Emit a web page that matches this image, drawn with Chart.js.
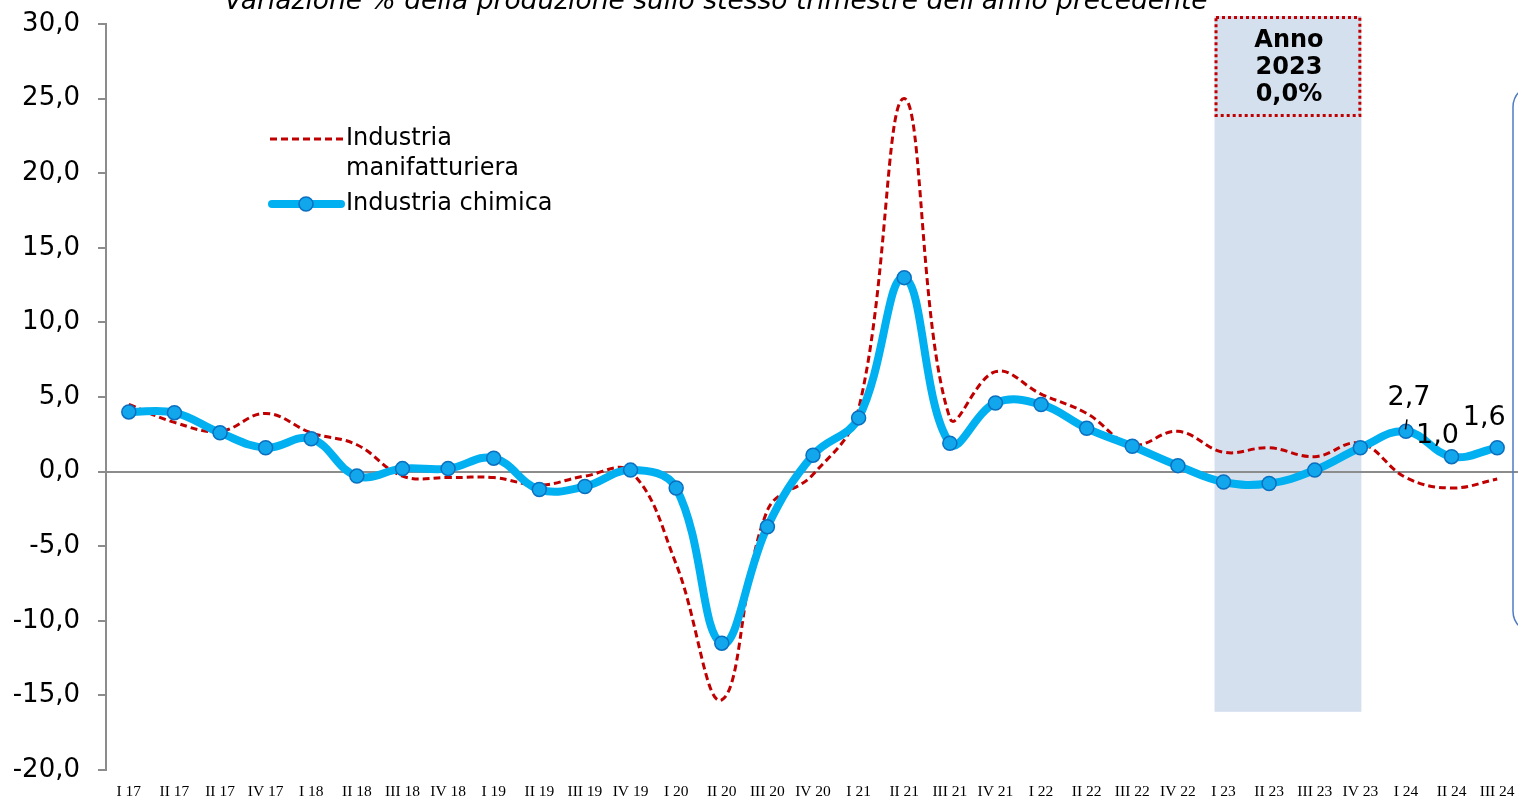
<!DOCTYPE html>
<html>
<head>
<meta charset="utf-8">
<script src="https://cdn.jsdelivr.net/npm/chart.js@4.4.1/dist/chart.umd.min.js"></script>
<style>
  html, body { margin: 0; padding: 0; background: #ffffff; overflow: hidden; }
  #wrap { position: relative; width: 1520px; height: 798px; }
</style>
</head>
<body>
<div id="wrap"><canvas id="c" width="1520" height="798"></canvas></div>
<script>
// ---- Data ----
const categories = ["I 17","II 17","II 17","IV 17","I 18","II 18","III 18","IV 18","I 19","II 19","III 19","IV 19","I 20","II 20","III 20","IV 20","I 21","II 21","III 21","IV 21","I 22","II 22","III 22","IV 22","I 23","II 23","III 23","IV 23","I 24","II 24","III 24"];
const manifatturiera = [4.5,3.3,2.7,3.9,2.6,1.8,-0.3,-0.4,-0.4,-0.9,-0.3,0.0,-6.2,-15.3,-2.6,-0.2,4.2,25.0,3.6,6.7,5.2,3.9,1.8,2.7,1.3,1.6,1.0,1.9,-0.4,-1.1,-0.5];
const chimica = [4.0,3.95,2.6,1.6,2.2,-0.3,0.2,0.2,0.9,-1.2,-1.0,0.1,-1.1,-11.5,-3.7,1.1,3.6,13.0,1.9,4.6,4.5,2.9,1.7,0.4,-0.7,-0.8,0.1,1.6,2.7,1.0,1.6];
const yTicks = [-20,-15,-10,-5,0,5,10,15,20,25,30];
const seriesNames = ["Industria manifatturiera", "Industria chimica"];
const titleText = "Variazione % della produzione sullo stesso trimestre dell'anno precedente";
const annoLines = ["Anno", "2023", "0,0%"];
const highlightStart = 24; // I 23
const highlightEnd = 27;   // IV 23
const labelledPoints = [28, 29, 30]; // I 24, II 24, III 24

const fmt = v => v.toFixed(1).replace('.', ',');
const SANS = "'DejaVu Sans', Verdana, sans-serif";

const overlay = {
  id: 'overlay',
  beforeDraw(chart) {
    const {ctx, scales: {x, y}} = chart;
    const x0 = x.getPixelForValue(highlightStart) - 9;
    const x1 = x.getPixelForValue(highlightEnd) + 1;
    const yTop = y.getPixelForValue(30) - 8;
    const yBot = y.getPixelForValue(-16.1);
    ctx.save();
    ctx.fillStyle = '#d5e0ee';
    ctx.fillRect(x0, yTop, x1 - x0, yBot - yTop);
    ctx.restore();
  },
  afterDraw(chart) {
    const {ctx, scales: {x, y}} = chart;
    ctx.save();
    // title (cut at top)
    ctx.font = "italic 26.5px " + SANS;
    ctx.fillStyle = '#000';
    ctx.textAlign = 'center';
    ctx.textBaseline = 'alphabetic';
    ctx.fillText(titleText, 716, 9);

    // Anno box dotted border
    const x0 = x.getPixelForValue(highlightStart) - 9;
    const x1 = x.getPixelForValue(highlightEnd) + 1;
    const yTop = y.getPixelForValue(30) - 8;
    const boxBottom = yTop + 101;
    ctx.strokeStyle = '#c00000';
    ctx.lineWidth = 3;
    ctx.setLineDash([3, 3]);
    ctx.strokeRect(x0 + 1.5, yTop + 1.5, x1 - x0 - 3, boxBottom - yTop - 3);
    ctx.setLineDash([]);
    ctx.font = "bold 24px " + SANS;
    ctx.textBaseline = 'middle';
    const cx = (x0 + x1) / 2 + 1;
    annoLines.forEach((t, i) => ctx.fillText(t, cx, yTop + 25 + i * 27));

    // right rounded box (cut off)
    ctx.strokeStyle = '#4f7cc4';
    ctx.lineWidth = 1.5;
    ctx.beginPath();
    ctx.roundRect(1513, 85, 60, 548, 22);
    ctx.stroke();

    // legend
    ctx.textAlign = 'left';
    ctx.font = "24px " + SANS;
    ctx.fillStyle = '#000';
    ctx.strokeStyle = '#c00000';
    ctx.lineWidth = 3;
    ctx.setLineDash([7, 4]);
    ctx.beginPath(); ctx.moveTo(270, 139); ctx.lineTo(343, 139); ctx.stroke();
    ctx.setLineDash([]);
    ctx.fillText("Industria", 346, 139);
    ctx.fillText("manifatturiera", 346, 169);
    ctx.strokeStyle = '#00b0f0';
    ctx.lineWidth = 8;
    ctx.lineCap = 'round';
    ctx.beginPath(); ctx.moveTo(272, 204); ctx.lineTo(341, 204); ctx.stroke();
    ctx.lineCap = 'butt';
    ctx.beginPath(); ctx.arc(306, 204, 7, 0, Math.PI * 2);
    ctx.fillStyle = '#12a7ec'; ctx.fill();
    ctx.strokeStyle = '#0b6fbf'; ctx.lineWidth = 1.5; ctx.stroke();
    ctx.fillStyle = '#000';
    ctx.fillText("Industria chimica", 346, 204);

    // data labels
    ctx.font = "27px " + SANS;
    ctx.textAlign = 'center';
    const offs = [[3, -33], [-14, -21], [-13, -30]];
    labelledPoints.forEach((idx, k) => {
      const px = x.getPixelForValue(idx);
      const py = y.getPixelForValue(chimica[idx]);
      ctx.fillText(fmt(chimica[idx]), px + offs[k][0], py + offs[k][1]);
    });
    // leader line for first label
    const lx = x.getPixelForValue(labelledPoints[0]);
    const ly = y.getPixelForValue(chimica[labelledPoints[0]]);
    ctx.strokeStyle = '#000'; ctx.lineWidth = 1.5;
    ctx.beginPath(); ctx.moveTo(lx + 1, ly - 12); ctx.lineTo(lx - 0.5, ly - 2); ctx.stroke();
    ctx.restore();
  }
};

new Chart(document.getElementById('c'), {
  type: 'line',
  data: {
    labels: categories,
    datasets: [
      {
        label: seriesNames[1],
        data: chimica,
        borderColor: '#00b0f0',
        borderWidth: 8,
        tension: 0.4,
        pointRadius: 7,
        pointBackgroundColor: '#12a7ec',
        pointBorderColor: '#0b6fbf',
        pointBorderWidth: 1.5,
        order: 0
      },
      {
        label: seriesNames[0],
        data: manifatturiera,
        borderColor: '#c00000',
        borderWidth: 3,
        borderDash: [7, 4],
        tension: 0.4,
        pointRadius: 0,
        order: 1
      }
    ]
  },
  options: {
    responsive: false,
    animation: false,
    layout: { autoPadding: false, padding: { top: 24, right: 0, left: 0, bottom: 0 } },
    plugins: { legend: { display: false }, tooltip: { enabled: false } },
    scales: {
      x: {
        offset: true,
        grid: { display: false },
        border: { display: false },
        ticks: {
          autoSkip: false, maxRotation: 0, minRotation: 0,
          color: '#000',
          font: { family: "'Liberation Serif', 'Times New Roman', serif", size: 15.5 },
          padding: 5
        },
        afterFit(s) { s.height = 28; s.paddingLeft = 0; s.paddingRight = 0; }
      },
      y: {
        min: -20, max: 30,
        afterBuildTicks(s) { s.ticks = yTicks.map(v => ({ value: v })); },
        grid: {
          drawOnChartArea: true,
          color: c => (c.tick && c.tick.value === 0) ? '#8c8c8c' : 'rgba(0,0,0,0)',
          lineWidth: 2,
          tickLength: 8,
          tickColor: '#8c8c8c'
        },
        border: { display: true, color: '#8c8c8c', width: 2 },
        ticks: {
          color: '#000',
          font: { family: SANS, size: 26 },
          padding: 18,
          callback: v => fmt(v)
        },
        afterFit(s) { s.width = 106; s.paddingTop = 0; s.paddingBottom = 0; }
      }
    }
  },
  plugins: [overlay]
});
</script>
</body>
</html>
